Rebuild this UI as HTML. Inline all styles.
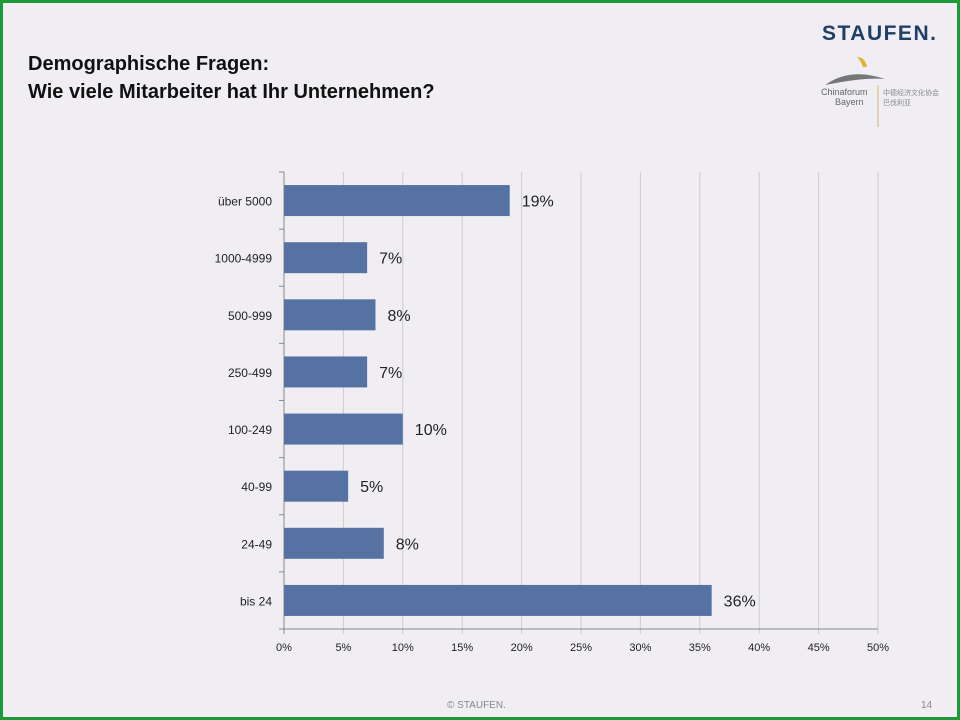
<!DOCTYPE html>
<html><head><meta charset="utf-8"><style>
body{margin:0;width:960px;height:720px;overflow:hidden;background:#f0eef2;font-family:"Liberation Sans",sans-serif}
#frame{position:absolute;left:0;top:0;width:954px;height:714px;border:3px solid #1e9a3a;background:#f0eef2}
.t{position:absolute;font-weight:bold;font-size:20px;color:#111;left:28px}
</style></head><body>
<div id="frame"></div>
<div class="t" style="top:53px">Demographische Fragen:</div>
<div class="t" style="top:81px">Wie viele Mitarbeiter hat Ihr Unternehmen?</div>
<div style="position:absolute;left:822px;top:22px;font-weight:bold;font-size:21px;color:#1f3f66;letter-spacing:1.5px">STAUFEN.</div>
<svg style="position:absolute;left:815px;top:55px" width="130" height="75">
<path d="M42 2 q8 0 10 10 l-4 0 q-2 -6 -6 -10z" fill="#e3b230"/>
<path d="M10 30 q25 -18 60 -6 q-20 -2 -60 6z" fill="#777"/>
<text x="6" y="40" font-size="9" fill="#666" font-family="Liberation Sans">Chinaforum</text>
<text x="20" y="50" font-size="9" fill="#666" font-family="Liberation Sans">Bayern</text>
<line x1="63" y1="30" x2="63" y2="72" stroke="#d6b36a"/>
<text x="68" y="40" font-size="7" fill="#888" font-family="Noto Sans CJK SC,sans-serif">中德经济文化协会</text>
<text x="68" y="50" font-size="7" fill="#888" font-family="Noto Sans CJK SC,sans-serif">巴伐利亚</text>
</svg>
<svg id="chart" width="960" height="720" style="position:absolute;left:0;top:0"></svg>
<div style="position:absolute;left:447px;top:700px;font-size:10px;color:#888">© STAUFEN.</div>
<div style="position:absolute;left:921px;top:700px;font-size:10px;color:#888">14</div>
<script>
const categories=["über 5000","1000-4999","500-999","250-499","100-249","40-99","24-49","bis 24"];
const values=[19,7,7.7,7,10,5.4,8.4,36];
const labels=["19%","7%","8%","7%","10%","5%","8%","36%"];
const ticks=[0,5,10,15,20,25,30,35,40,45,50];
const svg=document.getElementById('chart');
const NS='http://www.w3.org/2000/svg';
const X0=284,X1=878,Y0=172,Y1=629;
const x=v=>X0+(v-0)/50*(X1-X0);
const band=(Y1-Y0)/categories.length;
const y=i=>Y0+band*(i+0.5);
function el(t,a){const e=document.createElementNS(NS,t);for(const k in a)e.setAttribute(k,a[k]);svg.appendChild(e);return e;}
ticks.forEach(t=>{
 const g=el('line',{x1:x(t),x2:x(t),y1:Y0,y2:Y1+5,stroke:t===0?'#888':'#ccc'});
 
 
 const tx=el('text',{x:x(t),y:Y1+22,'text-anchor':'middle','font-size':11,fill:'#222','font-family':'Liberation Sans'});
 tx.textContent=t+'%';
 
 
});
const ax=el('line',{x1:X0,x2:X1,y1:Y1,y2:Y1,stroke:'#888'});


for(let i=0;i<=categories.length;i++){const tk=el('line',{x1:X0-5,x2:X0,y1:Y0+band*i,y2:Y0+band*i,stroke:'#888'});
 
 }
categories.forEach((c,i)=>{
 const b=el('rect',{x:X0,y:y(i)-15.5,width:x(values[i])-X0,height:31,fill:'#5572a3'});
 
 
 const l=el('text',{x:X0-12,y:y(i)+5,'text-anchor':'end','font-size':12,fill:'#222','font-family':'Liberation Sans'});
 l.textContent=c;
 
 
 const v=el('text',{x:x(values[i])+12,y:y(i)+6,'font-size':16,fill:'#222','font-family':'Liberation Sans'});
 v.textContent=labels[i];
 
 
});
</script>
</body></html>
